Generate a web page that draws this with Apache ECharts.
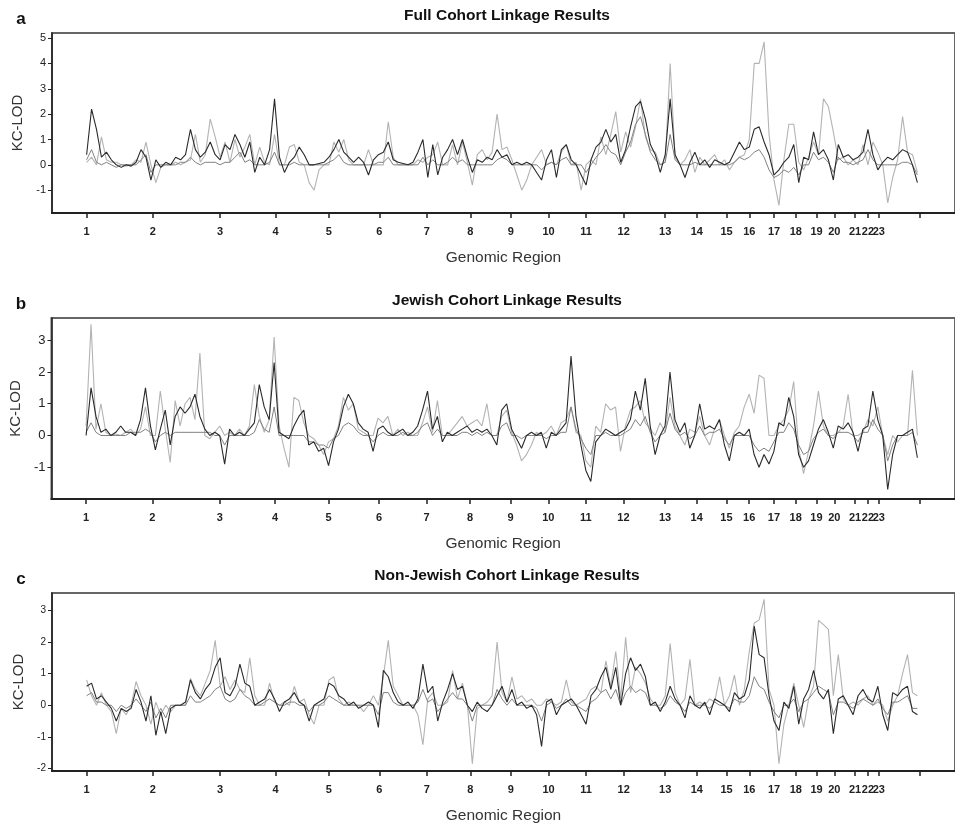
<!DOCTYPE html>
<html><head><meta charset="utf-8">
<script src="https://cdn.jsdelivr.net/npm/echarts@6/dist/echarts.min.js"></script>
<style>html,body{margin:0;padding:0;background:#fff}#c{width:955px;height:825px}</style>
</head><body><div id="c"></div>
<script>
// Chromosome start positions along the genome axis (cumulative units) and labels
const chrStart = [0,67,135,191,245,296,344,388,429,467,505,543,585,617,647,670,695,717,738,756,777,790,801];
const genomeEnd = 842;
const chrLabels = ['1','2','3','4','5','6','7','8','9','10','11','12','13','14','15','16','17','18','19','20','21','22','23'];
// sampling grid: every 5 units from 0 to 840
const sampleStep = 5;

const yTicksA = [-1,0,1,2,3,4,5];
const yTicksB = [-1,0,1,2,3];
const yTicksC = [-2,-1,0,1,2,3];

// Panel a: Full cohort
const fullDark = [
0.4,2.2,1.4,0.3,0.5,0.2,0.0,-0.1,0.0,-0.05,
0.1,0.6,0.3,-0.6,0.2,-0.1,0.1,0.0,0.3,0.2,
0.4,1.4,0.6,0.3,0.5,0.9,0.4,0.2,0.8,0.6,
1.2,0.8,0.3,0.9,-0.3,0.3,0.0,0.6,2.6,0.3,
-0.3,0.1,0.3,0.7,0.4,0.0,0.0,0.05,0.1,0.3,
0.6,1.0,0.5,0.3,0.1,0.3,0.1,-0.4,0.2,0.4,
0.5,0.9,0.2,0.1,0.05,0.0,0.1,0.5,1.0,-0.5,
0.8,-0.4,0.3,0.6,1.0,0.4,1.0,0.3,-0.3,0.2,
0.1,0.3,0.2,0.6,0.3,0.4,0.0,0.1,0.0,0.1,
0.0,-0.3,-0.6,0.2,0.6,-0.5,0.6,0.8,0.2,0.0,
-0.4,-0.8,0.2,0.7,0.9,1.4,0.9,1.2,0.1,0.6,
1.5,2.3,2.5,1.8,0.8,0.4,-0.3,0.4,2.6,0.4,
0.0,-0.5,0.1,0.5,0.0,0.2,-0.1,0.2,0.1,0.0,
0.1,0.5,0.9,0.6,0.7,1.4,1.5,0.9,0.4,-0.4,
-0.2,0.1,0.3,0.8,-0.7,0.3,0.2,1.3,0.4,0.6,
0.2,-0.6,0.8,0.3,0.4,0.2,0.3,0.5,1.4,0.4,
-0.2,0.1,0.3,0.2,0.4,0.6,0.5,0.0,-0.7];
const fullMid = [
0.2,0.6,0.1,0.0,0.1,0.0,-0.1,0.0,0.0,0.0,
0.0,0.2,0.4,-0.3,0.0,0.0,0.0,0.0,0.0,0.1,
0.1,0.3,0.1,0.0,0.1,0.1,0.1,0.0,0.1,0.1,
0.3,0.5,0.1,0.2,0.0,0.0,0.0,0.1,0.5,0.0,
0.0,0.0,0.1,0.0,0.0,0.0,0.0,0.0,0.0,0.1,
0.2,0.4,0.1,0.0,0.0,0.0,0.0,0.0,0.0,0.1,
0.1,0.3,0.0,0.0,0.0,0.0,0.0,0.0,0.3,0.0,
0.2,0.0,0.0,0.1,0.3,0.1,0.2,0.0,0.0,0.0,
0.0,0.0,0.0,0.2,0.3,0.2,0.0,0.0,0.0,0.0,
0.0,0.0,-0.2,0.0,0.1,0.0,0.2,0.3,0.0,0.0,
0.0,-0.3,0.0,0.3,0.5,0.8,0.5,0.4,0.0,0.5,
0.9,1.6,1.9,1.2,0.5,0.2,0.0,0.1,1.2,0.2,
0.0,0.0,0.0,0.1,0.0,0.0,0.0,0.0,0.0,0.0,
0.0,0.1,0.3,0.2,0.3,0.5,0.6,0.3,-0.2,-0.5,
-0.4,-0.2,-0.3,-0.1,-0.4,0.0,0.0,0.5,0.2,0.3,
0.1,-0.3,0.3,0.1,0.1,0.0,0.1,0.2,0.6,0.2,
0.0,0.0,0.0,0.0,0.0,0.1,0.1,0.0,-0.4];
const fullLight = [
0.1,0.3,0.0,1.1,0.2,0.1,0.1,0.0,-0.05,0.0,
0.2,0.1,0.9,0.0,-0.7,-0.1,0.0,0.0,0.1,0.0,
0.1,0.2,1.2,0.1,0.4,1.8,1.1,0.3,0.9,0.1,
1.0,0.3,0.7,1.2,0.0,0.7,0.1,0.0,1.2,0.0,
0.0,0.7,0.8,0.1,0.0,-0.7,-1.0,-0.2,0.0,0.0,
0.9,0.5,1.0,0.2,0.0,0.0,0.0,0.6,0.0,0.0,
0.0,1.7,0.3,0.0,0.0,0.0,0.0,0.2,0.1,0.3,
0.4,0.9,0.0,0.0,0.8,0.0,0.9,0.1,-0.8,0.4,
0.6,0.2,0.5,2.0,0.6,0.7,0.2,-0.4,-1.0,-0.6,
0.0,0.3,0.6,0.0,0.1,0.0,0.5,0.8,0.0,0.1,
-1.0,0.0,0.2,0.0,1.1,0.4,1.2,2.1,0.5,1.3,
0.7,1.5,2.6,1.1,0.6,0.5,0.0,0.1,4.0,0.3,
0.0,0.2,0.6,-0.3,0.3,0.0,0.2,0.4,0.0,0.2,
-0.2,0.1,0.3,0.4,1.0,4.0,4.0,4.85,1.2,-0.6,
-1.6,0.2,1.6,1.6,0.1,-0.2,0.3,0.9,0.4,2.6,
2.3,1.3,0.2,0.3,0.0,0.2,0.0,0.8,0.0,0.9,
0.5,0.0,-1.5,-0.5,0.2,1.9,0.5,0.4,-0.3];

// Panel b: Jewish cohort
const jewishDark = [
0.0,1.5,0.6,0.1,0.2,0.0,0.1,0.3,0.1,0.1,
0.0,0.5,1.5,0.3,-0.45,0.2,0.8,-0.3,0.6,0.9,
0.7,0.9,1.3,0.6,0.2,0.0,0.1,0.0,-0.9,0.2,
0.0,0.1,0.0,0.2,0.4,1.6,0.9,0.5,2.3,0.1,
0.0,-0.1,0.3,0.6,0.8,-0.3,-0.2,-0.5,-0.4,-0.95,
-0.2,0.2,0.9,1.3,1.0,0.4,0.2,0.1,-0.5,0.2,
0.3,0.1,0.0,0.1,0.2,0.0,0.1,0.3,0.8,1.4,
0.2,0.6,-0.2,0.1,0.0,0.1,0.2,0.3,0.1,0.2,
0.1,0.2,0.0,-0.3,0.8,1.0,0.2,-0.1,-0.4,0.0,
0.1,0.0,0.1,-0.4,0.1,0.0,0.2,0.4,2.5,0.6,
-0.3,-1.1,-1.45,-0.2,0.0,0.2,0.1,0.0,0.1,0.2,
0.5,1.4,0.8,1.8,0.3,-0.6,0.0,0.3,2.0,0.5,
0.1,0.4,-0.4,0.0,1.0,0.2,0.3,0.2,0.5,-0.3,
-0.8,0.0,0.1,0.0,0.2,-0.6,-1.0,-0.6,-0.9,-0.5,
0.4,0.3,1.2,0.6,-0.6,-1.0,-0.8,-0.3,0.2,0.5,
0.1,-0.4,0.3,0.2,0.4,0.1,-0.5,0.2,0.3,1.4,
0.5,0.0,-1.7,-0.6,0.0,0.0,0.1,0.2,-0.7];
const jewishMid = [
0.1,0.4,0.1,0.0,0.0,0.0,0.0,0.0,0.0,0.1,
0.1,0.1,0.2,0.1,-0.2,0.0,0.1,0.0,0.1,0.1,
0.1,0.1,0.1,0.1,0.1,0.1,0.0,0.0,-0.3,0.0,
0.0,0.0,0.0,0.0,0.1,0.5,0.2,0.1,0.9,0.0,
0.0,0.0,0.0,0.0,0.0,-0.2,-0.2,-0.3,-0.3,-0.4,
-0.1,0.0,0.3,0.4,0.3,0.1,0.0,0.0,-0.2,0.0,
0.1,0.0,0.0,0.0,0.1,0.0,0.0,0.1,0.3,0.4,
0.0,0.2,0.0,0.0,0.0,0.0,0.1,0.1,0.0,0.1,
0.0,0.1,0.0,0.0,0.3,0.4,0.0,0.0,-0.1,0.0,
0.0,0.0,0.0,-0.1,0.0,0.0,0.1,0.1,0.9,0.2,
-0.1,-0.4,-0.6,0.0,0.0,0.1,0.0,0.0,0.0,0.1,
0.2,0.5,0.3,0.6,0.1,-0.2,0.0,0.1,0.7,0.2,
0.0,0.1,-0.1,0.0,0.3,0.0,0.1,0.1,0.2,-0.1,
-0.3,0.0,0.0,0.0,0.0,-0.3,-0.5,-0.4,-0.5,-0.2,
0.1,0.1,0.4,0.2,-0.3,-0.6,-0.5,-0.1,0.1,0.2,
0.0,-0.1,0.1,0.1,0.1,0.0,-0.2,0.1,0.1,0.5,
0.2,0.0,-0.8,-0.3,0.0,0.0,0.0,0.1,-0.3];
const jewishLight = [
0.3,3.5,0.2,1.0,0.1,0.0,0.05,0.0,0.1,0.2,
0.0,0.2,0.9,0.0,0.0,1.4,0.2,-0.85,1.1,0.3,
1.0,1.2,0.5,2.6,0.0,-0.1,0.1,0.3,0.0,0.1,
0.0,0.2,0.0,0.3,1.6,0.6,0.1,0.5,3.1,0.3,
-0.4,-1.0,1.2,1.1,0.4,0.0,-0.1,-0.3,-0.6,-0.2,
-0.1,0.3,1.2,0.8,1.0,0.2,0.1,0.0,0.0,0.55,
0.4,0.6,0.0,0.2,0.0,0.1,0.0,0.0,0.4,0.9,
0.1,1.1,0.0,0.0,0.2,0.4,0.6,0.3,0.4,0.5,
0.3,1.0,0.0,0.0,0.6,0.8,0.1,-0.3,-0.8,-0.6,
-0.3,0.1,0.0,0.1,0.3,0.0,0.4,0.5,0.9,0.1,
0.0,-0.8,-1.0,0.3,0.1,1.0,0.8,0.9,-0.5,0.3,
0.8,0.9,1.1,0.4,0.2,0.0,0.4,0.1,1.2,0.3,
0.0,-0.3,0.2,0.1,0.6,0.0,-0.3,0.2,0.5,0.0,
-0.4,0.1,0.3,0.9,1.3,0.7,1.9,1.8,0.0,0.0,
0.3,0.5,0.8,1.7,-0.4,-1.2,-0.5,0.3,1.4,0.3,
0.0,0.0,0.1,0.3,1.3,0.0,0.0,0.1,0.5,0.3,
0.9,0.0,-0.6,0.0,-0.2,0.0,0.0,2.05,0.0];

// Panel c: Non-Jewish cohort
const nonJewishDark = [
0.6,0.7,0.2,0.3,0.1,-0.1,-0.5,-0.1,-0.2,-0.1,
0.5,0.1,-0.5,0.3,-0.95,-0.2,-0.9,-0.1,0.0,0.0,
0.1,0.8,0.4,0.2,0.5,0.7,1.2,1.5,0.4,0.3,
0.6,1.3,0.7,0.6,0.0,0.1,0.2,0.5,0.2,-0.2,
0.1,0.2,0.4,0.1,0.0,-0.5,0.0,0.1,0.2,0.7,
0.6,0.3,0.2,0.0,0.1,-0.1,0.0,0.1,0.0,-0.7,
1.1,0.9,0.4,0.1,0.0,0.1,-0.1,0.2,1.3,0.4,
0.6,-0.5,0.1,0.5,1.0,0.5,0.6,0.0,-0.2,0.1,
-0.1,-0.2,0.0,0.3,0.6,0.1,0.5,0.0,0.1,-0.1,
0.0,-0.3,-1.3,0.1,0.2,-0.3,0.0,0.1,0.2,0.0,
-0.3,-0.6,0.3,0.5,0.9,1.2,0.5,1.2,0.0,1.0,
1.5,1.1,1.3,0.9,0.0,0.1,-0.2,0.1,0.6,0.2,
0.0,-0.4,0.3,0.0,-0.1,0.1,-0.3,0.2,0.1,0.0,
-0.2,0.4,0.2,0.3,0.8,2.5,1.6,1.5,0.3,-0.5,
-0.8,0.1,-0.1,0.6,-0.6,0.2,0.5,1.1,0.4,0.2,
0.5,-0.9,0.2,0.3,0.0,-0.3,0.3,0.5,0.2,0.1,
0.6,-0.3,-0.8,0.4,0.3,0.5,0.6,-0.2,-0.3];
const nonJewishMid = [
0.3,0.4,0.1,0.1,0.0,0.0,-0.2,0.0,-0.1,0.0,
0.2,0.0,-0.2,0.1,-0.4,-0.1,-0.4,0.0,0.0,0.0,
0.0,0.3,0.1,0.1,0.2,0.3,0.5,0.6,0.2,0.1,
0.2,0.5,0.3,0.2,0.0,0.0,0.1,0.2,0.1,0.0,
0.0,0.1,0.1,0.0,0.0,-0.2,0.0,0.0,0.1,0.3,
0.2,0.1,0.0,0.0,0.0,0.0,0.0,0.0,0.0,-0.3,
0.4,0.4,0.1,0.0,0.0,0.0,0.0,0.1,0.5,0.1,
0.2,-0.2,0.0,0.2,0.4,0.2,0.2,0.0,-0.5,0.0,
0.0,0.0,0.0,0.5,0.2,0.0,0.2,0.0,0.0,0.0,
0.0,-0.1,-0.5,0.0,0.1,-0.1,0.0,0.2,0.0,0.0,
-0.1,-0.2,0.1,0.2,0.4,0.5,0.2,0.5,0.0,0.4,
0.6,0.4,0.5,0.4,0.0,0.0,-0.1,0.0,0.3,0.1,
0.0,-0.2,0.1,0.0,0.0,0.0,-0.1,0.1,0.0,0.0,
-0.1,0.2,0.1,0.1,0.3,0.9,0.6,0.5,0.1,-0.2,
-0.4,0.0,0.0,0.2,-0.2,0.1,0.2,0.4,0.6,0.5,
0.4,-0.3,0.1,0.1,0.0,-0.1,0.1,0.2,0.1,0.0,
0.2,-0.1,-0.3,0.1,0.1,0.2,0.3,-0.1,-0.1];
const nonJewishLight = [
0.8,0.3,0.0,0.4,0.0,-0.2,-0.9,-0.1,-0.3,0.0,
0.75,0.3,0.0,-0.6,0.1,-0.3,0.0,-0.2,0.0,0.0,
0.0,0.85,0.5,0.3,0.7,1.1,2.05,0.6,0.9,0.5,
0.8,0.5,0.4,1.5,0.3,0.0,0.0,0.7,0.1,0.0,
0.1,0.0,0.6,0.1,0.2,-0.3,-0.6,0.0,0.0,0.8,
0.9,0.2,0.0,0.1,0.0,0.0,-0.2,0.0,0.3,0.0,
0.9,2.05,0.6,0.3,0.0,0.0,0.0,-0.3,-1.25,0.2,
0.4,0.0,0.0,0.1,1.1,0.2,0.7,0.0,-1.85,-0.1,
0.0,0.1,0.3,2.0,0.4,0.1,0.9,0.2,0.3,0.1,
0.2,0.0,0.0,0.2,0.1,0.0,0.1,0.8,0.1,0.0,
0.1,0.2,0.5,0.6,0.4,1.4,0.6,1.7,0.2,2.15,
0.4,1.2,1.0,0.7,0.2,0.0,0.0,0.3,1.95,0.4,
0.0,0.2,1.45,0.0,0.1,0.0,0.2,0.1,0.9,0.0,
0.3,0.95,0.0,0.5,1.7,2.6,2.7,3.35,0.5,0.0,
-1.85,-0.6,0.0,0.7,0.0,-0.7,0.2,0.6,2.68,2.55,
2.4,0.3,1.6,0.2,0.0,0.1,0.0,0.2,0.3,0.0,
0.1,0.0,-0.5,0.0,0.3,1.0,1.6,0.4,0.3];

const panels = [
  {letter:'a', title:'Full Cohort Linkage Results', dark:fullDark, mid:fullMid, light:fullLight, yTicks:yTicksA, ymin:-1.9, ymax:5.2, top:33, height:180, left:52, ylabSize:11},
  {letter:'b', title:'Jewish Cohort Linkage Results', dark:jewishDark, mid:jewishMid, light:jewishLight, yTicks:yTicksB, ymin:-2.0, ymax:3.7, top:318, height:181, left:51, ylabSize:13},
  {letter:'c', title:'Non-Jewish Cohort Linkage Results', dark:nonJewishDark, mid:nonJewishMid, light:nonJewishLight, yTicks:yTicksC, ymin:-2.08, ymax:3.55, top:593, height:181, left:52, ylabSize:10}
];

const FONT = 'Liberation Sans, Arial, sans-serif';
const toPairs = arr => arr.map((v,i)=>[i*sampleStep, v]);
const tickVals = chrStart.concat([genomeEnd]);
const chrFmt = v => { const i = chrStart.indexOf(v); return i>=0 ? chrLabels[i] : ''; };
// labels split over two axes so that tightly packed labels are all kept
const labelsMain = chrStart.filter((v,i)=>i%2===0);
const labelsAlt = chrStart.filter((v,i)=>i%2===1);

const grid=[], xAxis=[], yAxis=[], series=[], graphic=[];
panels.forEach((p,k)=>{
  grid.push({left:p.left, top:p.top, width:913, height:p.height, show:true, borderColor:'#666', borderWidth:2, containLabel:false});
  const labelStyle = {show:true, hideOverlap:false, interval:0, margin:13, fontFamily:FONT, fontSize:11, fontWeight:'bold', color:'#222', formatter: chrFmt};
  xAxis.push({type:'value', gridIndex:k, min:-35, max:878, position:'bottom',
    axisLine:{show:true, onZero:false, lineStyle:{color:'#222', width:2}},
    axisTick:{show:true, customValues:tickVals, length:5, lineStyle:{color:'#222', width:1.5}},
    axisLabel:Object.assign({customValues:labelsMain}, labelStyle),
    splitLine:{show:false},
    name:'Genomic Region', nameLocation:'middle', nameGap:37,
    nameTextStyle:{fontFamily:FONT, fontSize:15.5, color:'#333'}});
  xAxis.push({type:'value', gridIndex:k, min:-35, max:878, position:'bottom',
    axisLine:{show:false, onZero:false}, axisTick:{show:false},
    axisLabel:Object.assign({customValues:labelsAlt}, labelStyle),
    splitLine:{show:false}});
  yAxis.push({type:'value', gridIndex:k, min:p.ymin, max:p.ymax,
    axisLine:{show:true, onZero:false, lineStyle:{color:'#222', width:1.5}},
    axisTick:{show:true, customValues:p.yTicks, length:4, lineStyle:{color:'#222'}},
    axisLabel:{show:true, customValues:p.yTicks, margin:6, fontFamily:FONT, fontSize:p.ylabSize, color:'#222'},
    splitLine:{show:false},
    name:'KC-LOD', nameLocation:'middle', nameGap:25,
    nameTextStyle:{fontFamily:FONT, fontSize:15, color:'#333'}});
  const xi = k*2;
  series.push({type:'line', xAxisIndex:xi, yAxisIndex:k, data:toPairs(p.light), showSymbol:false, symbol:'none',
    lineStyle:{color:'#b3b3b3', width:1.1}, z:2, animation:false});
  series.push({type:'line', xAxisIndex:xi, yAxisIndex:k, data:toPairs(p.mid), showSymbol:false, symbol:'none',
    lineStyle:{color:'#808080', width:1}, z:3, animation:false});
  series.push({type:'line', xAxisIndex:xi, yAxisIndex:k, data:toPairs(p.dark), showSymbol:false, symbol:'none',
    lineStyle:{color:'#2a2a2a', width:1.1}, z:4, animation:false});
  graphic.push({type:'text', x:507, y:p.top-17, style:{text:p.title, font:'bold 15.5px '+FONT, fill:'#111', textAlign:'center', textVerticalAlign:'middle'}});
  graphic.push({type:'text', x:21, y:p.top-14, style:{text:p.letter, font:'bold 17px '+FONT, fill:'#111', textAlign:'center', textVerticalAlign:'middle'}});
});

const chart = echarts.init(document.getElementById('c'), null, {renderer:'canvas'});
chart.setOption({animation:false, grid, xAxis, yAxis, series, graphic});
</script>
</body></html>
